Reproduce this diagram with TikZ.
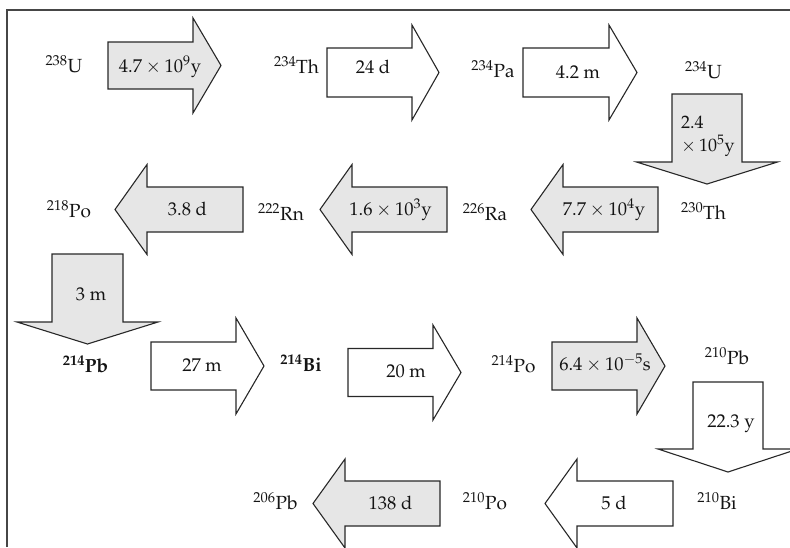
\documentclass[tikz,border=0pt]{standalone}
\usepackage[T1]{fontenc}
\usepackage{mathpazo}
\definecolor{blockgray}{RGB}{230,230,230}
\definecolor{linecol}{RGB}{40,40,40}
\definecolor{inkcol}{RGB}{20,20,20}
\definecolor{framecol}{RGB}{70,70,70}
\tikzset{
  grayblk/.style={draw=linecol, fill=blockgray, line width=1.1pt, line join=miter},
  whiteblk/.style={draw=linecol, fill=white, line width=1.1pt, line join=miter},
  nuclide/.style={anchor=base, inner sep=0pt, text=inkcol, font=\fontsize{19}{21}\selectfont},
  period/.style={anchor=base, inner sep=0pt, text=inkcol, font=\fontsize{18.5}{21}\selectfont},
}
% horizontal block arrow: tail x, head-base x, tip x, centre y, half body, half head, style
\newcommand{\hblock}[7]{%
  \draw[#7] (#1,{#4-#5}) -- (#2,{#4-#5}) -- (#2,{#4-#6}) -- (#3,#4)
    -- (#2,{#4+#6}) -- (#2,{#4+#5}) -- (#1,{#4+#5}) -- cycle;}
% vertical block arrow: tail y, head-base y, tip y, centre x, half body, half head, style
\newcommand{\vblock}[7]{%
  \draw[#7] ({#4-#5},#1) -- ({#4-#5},#2) -- ({#4-#6},#2) -- (#4,#3)
    -- ({#4+#6},#2) -- ({#4+#5},#2) -- ({#4+#5},#1) -- cycle;}
\newcommand{\iso}[2]{\textsuperscript{#1}#2}
\begin{document}
\begin{tikzpicture}[x=1pt,y=-1pt]
\useasboundingbox (0,0) rectangle (790,547);
% frame
\draw[framecol, line width=1.2pt] (7,547) -- (7,10) -- (790,10);

% row 1
\hblock{108}{193}{221}{65.5}{23.5}{47.5}{grayblk}
\hblock{327}{412}{439}{72.5}{24.5}{47.5}{whiteblk}
\hblock{523}{609}{637}{72.5}{24.5}{47.5}{whiteblk}
\vblock{94}{162}{184}{707}{35}{70.5}{grayblk}

% row 2
\hblock{658}{563}{531}{209.5}{22.5}{45}{grayblk}
\hblock{447}{352}{320}{209.5}{22.5}{45}{grayblk}
\hblock{243}{147}{115}{209.5}{22.5}{45}{grayblk}
\vblock{254}{322}{344}{87.5}{35.5}{70.5}{grayblk}

% row 3
\hblock{151}{236}{264}{366}{24}{48}{whiteblk}
\hblock{348}{433}{461}{372.5}{24}{47.5}{whiteblk}
\hblock{552}{637}{665}{366}{24}{48}{grayblk}
\vblock{382}{449}{472}{728}{35}{70}{whiteblk}

% row 4
\hblock{673}{577}{545}{503.5}{22.5}{44.5}{whiteblk}
\hblock{440}{345}{313}{503.5}{22.5}{44.5}{grayblk}

% nuclides
\node[nuclide] (u238)  at (64,72)    {\iso{238}{U}};
\node[nuclide] (th234) at (296.5,73) {\iso{234}{Th}};
\node[nuclide] (pa234) at (493,77)   {\iso{234}{Pa}};
\node[nuclide] (u234)  at (703.5,78) {\iso{234}{U}};
\node[nuclide] (th230) at (703.5,219){\iso{230}{Th}};
\node[nuclide] (ra226) at (485,220)  {\iso{226}{Ra}};
\node[nuclide] (rn222) at (281,220)  {\iso{222}{Rn}};
\node[nuclide] (po218) at (69,217)   {\iso{218}{Po}};
\node[nuclide] (pb214) at (85.5,372.5){\bfseries\iso{214}{Pb}};
\node[nuclide] (bi214) at (301,371)  {\bfseries\iso{214}{Bi}};
\node[nuclide] (po214) at (513.5,372){\iso{214}{Po}};
\node[nuclide] (pb210) at (727,364)  {\iso{210}{Pb}};
\node[nuclide] (bi210) at (717,509)  {\iso{210}{Bi}};
\node[nuclide] (po210) at (485,509)  {\iso{210}{Po}};
\node[nuclide] (pb206) at (275.5,509){\iso{206}{Pb}};

% half-lives
\node[period] (t1)  at (160,72)    {$4.7\times10^{9}$y};
\node[period] (t2)  at (373,73)    {24 d};
\node[period] (t3)  at (578,78)    {4.2 m};
\node[period, anchor=base west, align=left,
      font=\fontsize{18}{23}\selectfont] (t4) at (681,151) {2.4\\$\times\,10^{5}$y};
\node[period] (t5)  at (604,215)   {$7.7\times10^{4}$y};
\node[period] (t6)  at (390.5,215) {$1.6\times10^{3}$y};
\node[period] (t7)  at (187.5,215) {3.8 d};
\node[period] (t8)  at (91,300.5)  {3 m};
\node[period] (t9)  at (202,371.5) {27 m};
\node[period] (t10) at (406,377)   {20 m};
\node[period] (t11) at (605,370)   {$6.4\times10^{-5}$s};
\node[period] (t12) at (731,427)   {22.3 y};
\node[period] (t13) at (614,509)   {5 d};
\node[period] (t14) at (390.5,509) {138 d};
\end{tikzpicture}
\end{document}
